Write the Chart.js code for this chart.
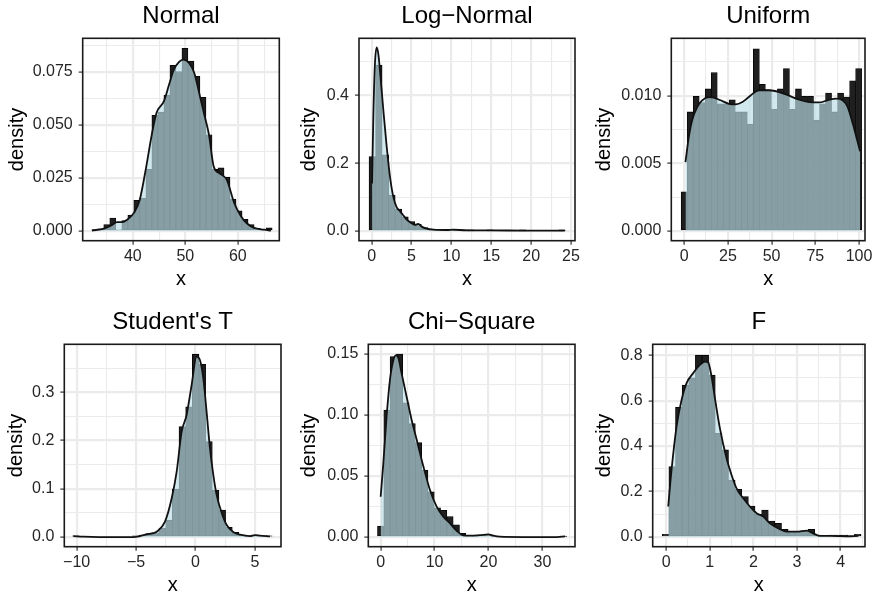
<!DOCTYPE html>
<html>
<head>
<meta charset="utf-8">
<script src="https://cdn.jsdelivr.net/npm/chart.js@4.4.0/dist/chart.umd.min.js"></script>
<style>
  body { margin: 0; background: #fff; }
  #wrap { position: relative; width: 876px; height: 597px; overflow: hidden; }
  #wrap canvas { position: absolute; }
</style>
</head>
<body>
<div id="wrap"></div>
<script>
// values

const normalBins = [32.73, 33.88, 35.02, 36.17, 37.32, 38.46, 39.61, 40.75, 41.90, 43.05, 44.19, 45.34, 46.48, 47.63, 48.78, 49.92, 51.07, 52.21, 53.36, 54.51, 55.65, 56.80, 57.94, 59.09, 60.24, 61.38, 62.53, 63.67, 64.82, 65.97];
const normalHist = [0.0005, 0.001, 0.003, 0.0061, 0.0005, 0.0049, 0.0075, 0.0144, 0.0155, 0.029, 0.0544, 0.056, 0.064, 0.078, 0.075, 0.086, 0.080, 0.0728, 0.0629, 0.0453, 0.029, 0.0297, 0.0253, 0.015, 0.0095, 0.0055, 0.003, 0.0012, 0.0008, 0.0015];
const normalDensX = [32.2, 34.5, 36.0, 37.0, 38.0, 38.9, 40.2, 41.3, 42.6, 43.6, 44.5, 45.9, 46.9, 47.8, 48.8, 49.6, 50.7, 51.7, 52.8, 53.6, 54.5, 55.4, 56.4, 57.9, 59.3, 60.6, 61.7, 63.1, 65.0, 66.3];
const normalDensY = [0.0002, 0.0011, 0.0027, 0.0041, 0.0041, 0.0053, 0.0085, 0.0146, 0.031, 0.0453, 0.0555, 0.061, 0.0689, 0.0759, 0.0796, 0.0807, 0.0791, 0.0744, 0.0632, 0.0548, 0.0453, 0.0303, 0.0273, 0.024, 0.0132, 0.0069, 0.0036, 0.0014, 0.0006, 0.0002];

const logBins = [0.08, 0.90, 1.72, 2.54, 3.36, 4.18, 5.00, 5.82, 6.64, 7.46, 8.28, 9.10, 9.92, 10.74, 11.56, 12.38, 13.20, 14.02, 14.84, 15.66, 16.48, 17.30, 18.12, 18.94, 19.76, 20.58, 21.40, 22.22, 23.04, 23.86];
const logHist = [0.22, 0.49, 0.225, 0.106, 0.065, 0.042, 0.028, 0.02, 0.01, 0.006, 0.003, 0.002, 0.002, 0.001, 0.001, 0.0005, 0, 0, 0.0005, 0, 0, 0, 0, 0.0005, 0, 0, 0, 0, 0, 0.0005];
const logDensX = [0.05, 0.2, 0.4, 0.63, 0.85, 1.05, 1.46, 1.88, 2.3, 2.72, 3.14, 3.5, 3.9, 4.39, 5.02, 5.43, 5.85, 6.27, 6.9, 7.73, 9.41, 10.24, 11.9, 14.8, 19.0, 24.2];
const logDensY = [0.14, 0.33, 0.49, 0.542, 0.52, 0.47, 0.358, 0.25, 0.16, 0.10, 0.07, 0.06, 0.048, 0.034, 0.023, 0.018, 0.021, 0.013, 0.007, 0.004, 0.003, 0.004, 0.002, 0.002, 0.0012, 0.001];

const unifBins = [0, 3.44, 6.88, 10.32, 13.76, 17.2, 20.64, 24.08, 27.52, 30.96, 34.4, 37.84, 41.28, 44.72, 48.16, 51.6, 55.04, 58.48, 61.92, 65.36, 68.8, 72.24, 75.68, 79.12, 82.56, 86.0, 89.44, 92.88, 96.32, 99.76];
const unifHist = [0.0029, 0.0088, 0.00995, 0.0095, 0.0105, 0.0117, 0.0094, 0.0094, 0.0097, 0.0088, 0.0088, 0.0079, 0.01346, 0.01084, 0.01044, 0.0090, 0.0105, 0.012, 0.0090, 0.0105, 0.00995, 0.00995, 0.0082, 0.0094, 0.0102, 0.0088, 0.0102, 0.0099, 0.0111, 0.012];
const unifDensX = [0.76, 2.68, 4.6, 7.46, 10.3, 14.1, 17.0, 20.8, 25.6, 29.4, 33.3, 38.0, 42.8, 48.6, 54.3, 60.0, 65.8, 71.5, 77.2, 82.0, 86.8, 90.6, 93.5, 96.4, 99.2, 100.6];
const unifDensY = [0.0051, 0.00695, 0.0082, 0.00916, 0.00966, 0.0099, 0.00985, 0.00966, 0.0094, 0.00936, 0.00953, 0.01002, 0.0104, 0.0104, 0.01027, 0.01, 0.0097, 0.00953, 0.0095, 0.00966, 0.00978, 0.00966, 0.00916, 0.00794, 0.00658, 0.0059];

const tBins = [-10.07, -9.51, -8.95, -8.39, -7.83, -7.27, -6.71, -6.15, -5.59, -5.03, -4.47, -3.91, -3.35, -2.79, -2.23, -1.67, -1.11, -0.55, 0.01, 0.57, 1.13, 1.69, 2.25, 2.81, 3.37, 3.93, 4.49, 5.05, 5.61, 6.17];
const tHist = [0.002, 0, 0, 0, 0, 0, 0, 0, 0, 0.002, 0.004, 0.007, 0.009, 0.018, 0.035, 0.0995, 0.229, 0.27, 0.379, 0.358, 0.198, 0.097, 0.056, 0.02, 0.01, 0.004, 0.002, 0.004, 0, 0.002];
const tDensX = [-10.28, -9.44, -8.04, -5.23, -4.67, -4.11, -3.55, -3.27, -2.57, -2.01, -1.59, -1.17, -0.75, -0.33, 0.09, 0.37, 0.65, 0.93, 1.21, 1.49, 1.77, 2.2, 2.62, 3.2, 3.74, 4.58, 5.0, 5.42, 6.26];
const tDensY = [0.002, 0.0007, 0, 0, 0.002, 0.0055, 0.008, 0.011, 0.032, 0.08, 0.135, 0.218, 0.253, 0.315, 0.374, 0.367, 0.33, 0.26, 0.185, 0.13, 0.088, 0.05, 0.025, 0.01, 0.005, 0.002, 0.004, 0.003, 0.0014];

const chiBins = [0, 1.17, 2.34, 3.51, 4.68, 5.85, 7.02, 8.19, 9.36, 10.53, 11.7, 12.87, 14.04, 15.21, 16.38, 17.55, 18.72, 19.89, 21.06, 22.23, 23.4, 24.57, 25.74, 26.91, 28.08, 29.25, 30.42, 31.59, 32.76, 33.93];
const chiHist = [0.009, 0.104, 0.148, 0.15, 0.11, 0.093, 0.0775, 0.055, 0.037, 0.024, 0.022, 0.0167, 0.01, 0.003, 0.001, 0.0007, 0.0015, 0.002, 0.0008, 0, 0, 0, 0, 0, 0, 0, 0, 0, 0, 0.0005];
const chiDensX = [0.0, 0.49, 1.11, 1.73, 2.35, 2.84, 3.28, 3.9, 4.82, 5.75, 6.68, 7.92, 9.15, 10.39, 11.63, 12.86, 14.1, 15.3, 16.57, 18.4, 20.0, 20.9, 22.1, 26.5, 32.7, 34.2];
const chiDensY = [0.033, 0.060, 0.099, 0.129, 0.145, 0.149, 0.147, 0.134, 0.115, 0.096, 0.080, 0.058, 0.0386, 0.025, 0.0167, 0.0112, 0.0052, 0.0014, 0.0011, 0.0016, 0.0022, 0.0011, 0.0003, 0, 0, 0.0005];

const fBins = [-0.015, 0.137, 0.289, 0.441, 0.593, 0.745, 0.897, 1.049, 1.201, 1.353, 1.505, 1.657, 1.809, 1.961, 2.113, 2.265, 2.417, 2.569, 2.721, 2.873, 3.025, 3.177, 3.329, 3.481, 3.633, 3.785, 3.937, 4.089, 4.241, 4.393];
const fHist = [0.012, 0.31, 0.571, 0.669, 0.70, 0.80, 0.80, 0.713, 0.456, 0.383, 0.25, 0.21, 0.178, 0.136, 0.10, 0.118, 0.07, 0.06, 0.034, 0.025, 0.025, 0.025, 0.034, 0.008, 0, 0.008, 0.008, 0.008, 0, 0.012];
const fDensX = [0.046, 0.122, 0.237, 0.352, 0.467, 0.619, 0.772, 0.887, 0.963, 1.04, 1.117, 1.231, 1.384, 1.499, 1.614, 1.767, 1.92, 2.073, 2.226, 2.379, 2.608, 2.761, 2.99, 3.22, 3.37, 3.53, 3.76, 4.14, 4.41];
const fDensY = [0.134, 0.295, 0.486, 0.603, 0.677, 0.721, 0.757, 0.772, 0.768, 0.706, 0.611, 0.479, 0.346, 0.273, 0.214, 0.170, 0.134, 0.104, 0.0895, 0.060, 0.034, 0.0235, 0.0235, 0.028, 0.016, 0.0044, 0.0044, 0.003, 0.0044];

// tick values (major carry labels, minor only grid lines)
const normalXTicks = [40, 50, 60], normalXMinor = [35, 45, 55, 65];
const normalYTicks = [0, 0.025, 0.05, 0.075], normalYMinor = [0.0125, 0.0375, 0.0625, 0.0875];
const logXTicks = [0, 5, 10, 15, 20, 25], logXMinor = [2.5, 7.5, 12.5, 17.5, 22.5];
const logYTicks = [0, 0.2, 0.4], logYMinor = [0.1, 0.3, 0.5];
const unifXTicks = [0, 25, 50, 75, 100], unifXMinor = [12.5, 37.5, 62.5, 87.5];
const unifYTicks = [0, 0.005, 0.01], unifYMinor = [0.0025, 0.0075, 0.0125];
const tXTicks = [-10, -5, 0, 5], tXMinor = [-7.5, -2.5, 2.5];
const tYTicks = [0, 0.1, 0.2, 0.3], tYMinor = [0.05, 0.15, 0.25, 0.35];
const chiXTicks = [0, 10, 20, 30], chiXMinor = [5, 15, 25, 35];
const chiYTicks = [0, 0.05, 0.1, 0.15], chiYMinor = [0.025, 0.075, 0.125];
const fXTicks = [0, 1, 2, 3, 4], fXMinor = [0.5, 1.5, 2.5, 3.5, 4.5];
const fYTicks = [0, 0.2, 0.4, 0.6, 0.8], fYMinor = [0.1, 0.3, 0.5, 0.7];

const FONT = '"Liberation Sans", Arial, Helvetica, sans-serif';
const CANVAS_H = 291;

const panels = [
    { title: 'Normal', bins: normalBins, hist: normalHist, dx: normalDensX, dy: normalDensY,
      xt: normalXTicks, xm: normalXMinor, yt: normalYTicks, ym: normalYMinor, yDec: 3,
      xMin: 30.44, xMax: 67.9, yMin: -0.0046, yMax: 0.0907,
      left: 5, top: 0, plotL: 82.7, plotR: 279.3 },
    { title: 'Log\u2212Normal', bins: logBins, hist: logHist, dx: logDensX, dy: logDensY,
      xt: logXTicks, xm: logXMinor, yt: logYTicks, ym: logYMinor, yDec: 1,
      xMin: -1.59, xMax: 25.5, yMin: -0.0286, yMax: 0.569,
      left: 297, top: 0, plotL: 359, plotR: 575 },
    { title: 'Uniform', bins: unifBins, hist: unifHist, dx: unifDensX, dy: unifDensY,
      xt: unifXTicks, xm: unifXMinor, yt: unifYTicks, ym: unifYMinor, yDec: 3,
      xMin: -7.35, xMax: 103.4, yMin: -0.000714, yMax: 0.01424,
      left: 592, top: 0, plotL: 671.3, plotR: 865 },
    { title: "Student's T", bins: tBins, hist: tHist, dx: tDensX, dy: tDensY,
      xt: tXTicks, xm: tXMinor, yt: tYTicks, ym: tYMinor, yDec: 1,
      xMin: -11.04, xMax: 7.19, yMin: -0.02, yMax: 0.3995,
      left: 4, top: 306, plotL: 64.3, plotR: 281 },
    { title: 'Chi\u2212Square', bins: chiBins, hist: chiHist, dx: chiDensX, dy: chiDensY,
      xt: chiXTicks, xm: chiXMinor, yt: chiYTicks, ym: chiYMinor, yDec: 2,
      xMin: -2.29, xMax: 36.05, yMin: -0.0079, yMax: 0.158,
      left: 297, top: 306, plotL: 368.3, plotR: 575 },
    { title: 'F', bins: fBins, hist: fHist, dx: fDensX, dy: fDensY,
      xt: fXTicks, xm: fXMinor, yt: fYTicks, ym: fYMinor, yDec: 1,
      xMin: -0.31, xMax: 4.56, yMin: -0.043, yMax: 0.848,
      left: 592, top: 306, plotL: 652.7, plotR: 865 }
];

const fmtX = v => (v < 0 ? '\u2212' + Math.abs(v) : String(v));

// ggplot-ish panel title + border drawn on top of the data
const panelDecor = {
    id: 'panelDecor',
    afterDraw: (chart, args, opts) => {
        const { ctx, chartArea: a } = chart;
        ctx.save();
        ctx.strokeStyle = '#1a1a1a';
        ctx.lineWidth = 1.6;
        ctx.strokeRect(a.left, a.top, a.right - a.left, a.bottom - a.top);
        ctx.fillStyle = '#000';
        ctx.font = '24px ' + FONT;
        ctx.textAlign = 'center';
        ctx.textBaseline = 'alphabetic';
        ctx.fillText(opts.text, (a.left + a.right) / 2, a.top - 15.6);
        ctx.restore();
    }
};

const makeAxis = (min, max, major, minor, fmt, titleText, isX, fitSize) => ({
    type: 'linear',
    min: min,
    max: max,
    offset: false,
    afterBuildTicks: s => {
        s.ticks = major.concat(minor).sort((a, b) => a - b).map(v => ({ value: v }));
    },
    afterFit: s => {
        if (isX) s.height = fitSize; else s.width = fitSize;
        s.paddingLeft = 0; s.paddingRight = 0; s.paddingTop = 0; s.paddingBottom = 0;
    },
    border: { display: false },
    grid: {
        offset: false,
        color: '#ebebeb',
        lineWidth: c => (c.tick && major.includes(c.tick.value) ? 2.2 : 1.1),
        drawTicks: true,
        tickLength: 4,
        tickWidth: 1.2,
        tickColor: c => (c.tick && major.includes(c.tick.value) ? '#333' : 'rgba(0,0,0,0)')
    },
    ticks: {
        autoSkip: false,
        maxRotation: 0,
        minRotation: 0,
        padding: isX ? 2 : 6,
        color: '#262626',
        font: { family: FONT, size: 16 },
        callback: v => (major.includes(v) ? fmt(v) : '')
    },
    title: {
        display: true,
        text: titleText,
        color: '#000',
        padding: 0,
        font: { family: FONT, size: 20 }
    }
});

const makePanel = (p) => {
    const wrap = document.getElementById('wrap');
    const canvas = document.createElement('canvas');
    const width = Math.ceil(p.plotR + 10 - p.left);
    canvas.width = width;
    canvas.height = CANVAS_H;
    canvas.style.left = p.left + 'px';
    canvas.style.top = p.top + 'px';
    wrap.appendChild(canvas);

    const padTop = 38.3;
    const xFit = 50.3;

    new Chart(canvas.getContext('2d'), {
        type: 'line',
        data: {
            datasets: [{
                type: 'line',
                order: 0,
                data: p.dx.map((x, i) => ({ x: x, y: p.dy[i] })),
                borderColor: '#111',
                borderWidth: 1.8,
                backgroundColor: 'rgba(186, 220, 230, 0.67)',
                fill: 'origin',
                cubicInterpolationMode: 'monotone',
                pointRadius: 0
            }, {
                type: 'bar',
                order: 1,
                data: p.bins.map((x, i) => ({ x: x, y: p.hist[i] })),
                backgroundColor: '#1f1f1f',
                borderColor: '#000',
                borderWidth: 0.8,
                borderSkipped: false,
                categoryPercentage: 1,
                barPercentage: 1
            }]
        },
        options: {
            responsive: false,
            animation: false,
            devicePixelRatio: 1,
            layout: { padding: { top: padTop, right: width - (p.plotR - p.left), left: 0, bottom: 0 } },
            plugins: {
                legend: { display: false },
                tooltip: { enabled: false },
                panelDecor: { text: p.title }
            },
            scales: {
                x: makeAxis(p.xMin, p.xMax, p.xt, p.xm, fmtX, 'x', true, xFit),
                y: makeAxis(p.yMin, p.yMax, p.yt, p.ym, v => v.toFixed(p.yDec), 'density', false, p.plotL - p.left)
            }
        },
        plugins: [panelDecor]
    });
};

panels.forEach(makePanel);
</script>
</body>
</html>
